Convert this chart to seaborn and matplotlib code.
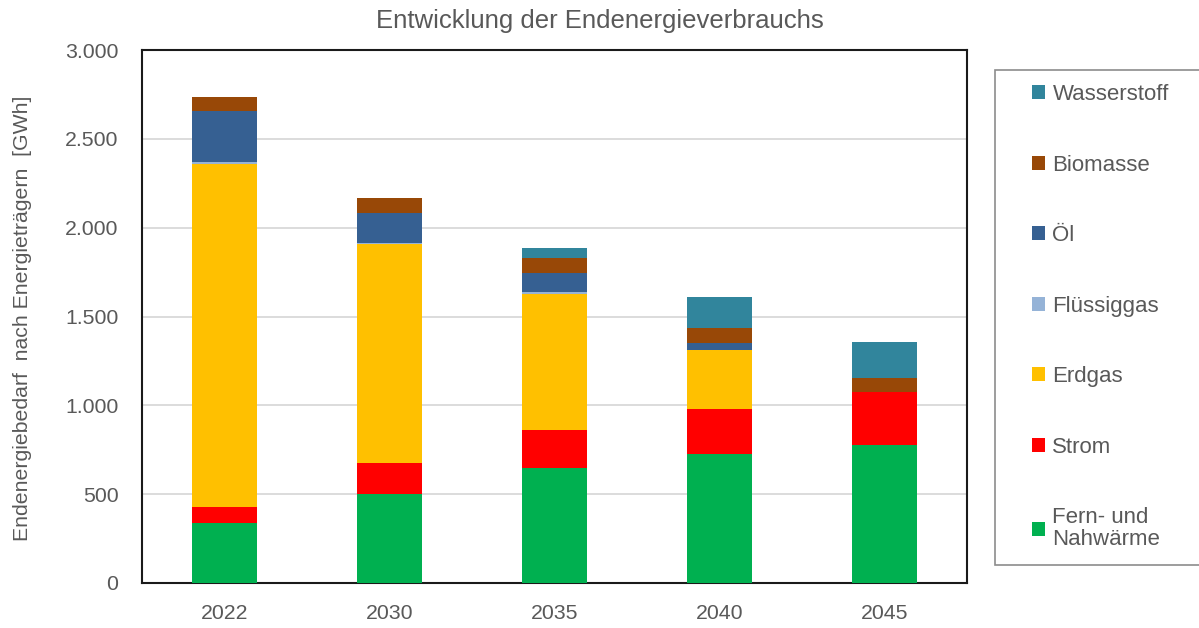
import matplotlib
matplotlib.use("Agg")
import matplotlib.pyplot as plt
from matplotlib.ticker import FuncFormatter
from matplotlib.patches import Patch, Rectangle
import numpy as np
import pandas as pd
import seaborn as sns

years = ["2022", "2030", "2035", "2040", "2045"]
fern_nahwaerme = [340, 502, 650, 726, 777]
strom = [87, 173, 209, 255, 300]
erdgas = [1930, 1231, 768, 328, 0]
fluessiggas = [15, 8, 11, 0, 0]
oel = [282, 169, 106, 42, 0]
biomasse = [80, 85, 87, 83, 78]
wasserstoff = [0, 0, 52, 174, 203]

series_names = ["Fern- und\nNahwärme", "Strom", "Erdgas", "Flüssiggas", "Öl", "Biomasse", "Wasserstoff"]
series_values = [fern_nahwaerme, strom, erdgas, fluessiggas, oel, biomasse, wasserstoff]
series_colors = ["#00B050", "#FF0000", "#FFC000", "#95B3D7", "#366092", "#984807", "#31859C"]

sns.set_theme(style="white")
plt.rcParams["font.family"] = ["Liberation Sans", "DejaVu Sans"]

text_color = "#595959"
W, H = 1199, 628

fig = plt.figure(figsize=(W / 100, H / 100), dpi=100)
ax = fig.add_axes([142 / W, 45 / H, 825 / W, 533 / H])

# stacked bars: draw cumulative totals from the top layer downwards
df = pd.DataFrame(dict(zip(series_names, series_values)), index=years)
cum = df.cumsum(axis=1)
for name, color in reversed(list(zip(series_names, series_colors))):
    sns.barplot(x=cum.index, y=cum[name].values, color=color, width=0.39,
                saturation=1, ax=ax, zorder=3, linewidth=0)

ax.set_ylim(0, 3000)
ax.set_yticks(np.arange(0, 3001, 500))
ax.yaxis.set_major_formatter(FuncFormatter(lambda v, p: f"{int(v):,}".replace(",", ".")))
ax.grid(axis="y", color="#D9D9D9", linewidth=1.3, zorder=0)
ax.set_axisbelow(True)
for s in ax.spines.values():
    s.set_visible(True)
    s.set_color("#1a1a1a")
    s.set_linewidth(1.5)
ax.tick_params(axis="both", length=0, labelsize=15.3, labelcolor=text_color)
ax.tick_params(axis="y", pad=17)
ax.tick_params(axis="x", pad=15)
ax.set_xlabel("")
ax.set_ylabel("")

fig.text(0.5, 1 - 21 / H, "Entwicklung der Endenergieverbrauchs", ha="center", va="center",
         fontsize=18.5, color=text_color)
fig.text(23 / W, 1 - 318 / H, "Endenergiebedarf  nach Energieträgern  [GWh]", rotation=90,
         ha="center", va="center", fontsize=15.3, color=text_color)

# legend frame drawn separately so it can run past the right edge
fig.patches.append(Rectangle((995 / W, 1 - 565 / H), 215 / W, 495 / H,
                             transform=fig.transFigure, facecolor="white",
                             edgecolor="#8c8c8c", linewidth=1.2, zorder=1))

handles = [Patch(facecolor=c, edgecolor="none", label=n)
           for n, c in zip(series_names, series_colors)][::-1]
leg = fig.legend(handles=handles, loc="upper left", bbox_to_anchor=(1032 / W, 1 - 84 / H),
                 frameon=False, fontsize=16, labelspacing=2.23,
                 handlelength=0.6, handleheight=0.6, handletextpad=0.32,
                 borderpad=0, borderaxespad=0)
leg.set_zorder(2)
for t in leg.get_texts():
    t.set_color(text_color)
    t.set_linespacing(1.05)

fig.savefig("out.png", dpi=100)
